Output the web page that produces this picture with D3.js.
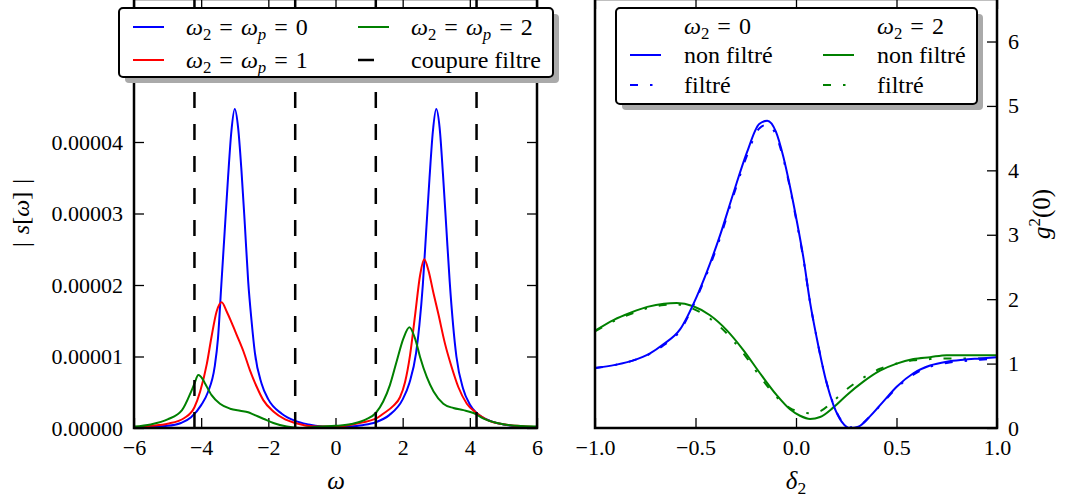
<!DOCTYPE html>
<html><head><meta charset="utf-8">
<script src="https://cdn.jsdelivr.net/npm/d3@7"></script>
<style>
body{margin:0;background:#fff;}
text{font-family:"Liberation Serif","Times New Roman",serif;fill:#000;}
</style>
</head><body>
<svg id="c" width="1074" height="502"></svg>
<script>
// ---------- DATA (left panel: |s[omega]| in units of 1e-5) ----------
const omegaTicks = [-6,-4,-2,0,2,4,6];
const specTicks = [0,1e-5,2e-5,3e-5,4e-5];
const cutoffs = [-4.2,-1.2,1.2,4.2];
const SPEC_UNIT = 1e-5;

const blueOmega = [-6,-5.5,-5,-4.6,-4.3,-4.0,-3.8,-3.6,-3.5,-3.4,-3.3,-3.2,-3.1,-3.0,-2.9,-2.8,-2.7,-2.6,-2.5,-2.4,-2.2,-2.0,-1.6,-1.2,-0.8,-0.4,0,0.4,0.8,1.2,1.6,2.0,2.2,2.4,2.5,2.6,2.7,2.8,2.9,3.0,3.1,3.2,3.3,3.4,3.5,3.6,3.8,4.0,4.2,4.6,5.0,5.5,6];
const blueSpec  = [0.01,0.02,0.03,0.07,0.15,0.32,0.5,0.85,1.25,2.0,2.75,3.5,4.15,4.46,4.2,3.6,2.85,2.05,1.5,1.05,0.62,0.4,0.2,0.1,0.05,0.02,0.01,0.02,0.04,0.08,0.18,0.4,0.63,1.05,1.45,2.0,2.75,3.5,4.15,4.46,4.2,3.55,2.8,2.05,1.45,1.0,0.55,0.33,0.21,0.1,0.05,0.02,0.01];

const redOmega = [-6,-5.5,-5,-4.5,-4.2,-4.03,-3.83,-3.69,-3.54,-3.39,-3.24,-3.09,-2.94,-2.74,-2.55,-2.35,-2.15,-1.85,-1.5,-1.2,-0.56,0,0.5,1.0,1.2,1.42,1.72,1.92,2.07,2.22,2.37,2.52,2.64,2.77,2.92,3.06,3.26,3.46,3.66,3.91,4.2,4.7,5.4,6];
const redSpec  = [0.01,0.03,0.06,0.14,0.29,0.51,0.9,1.28,1.63,1.76,1.63,1.47,1.3,1.07,0.81,0.58,0.39,0.23,0.12,0.07,0.02,0.02,0.05,0.1,0.13,0.2,0.31,0.43,0.64,1.02,1.58,2.14,2.36,2.2,1.88,1.6,1.18,0.85,0.57,0.34,0.21,0.08,0.03,0.01];

const greenOmega = [-6,-5.5,-5,-4.57,-4.28,-4.2,-4.085,-3.95,-3.88,-3.69,-3.44,-3.14,-2.84,-2.6,-2.45,-2.15,-1.85,-1.45,-1.06,-0.47,0,0.52,0.91,1.2,1.42,1.62,1.82,2.02,2.2,2.37,2.52,2.72,2.92,3.21,3.51,3.81,4.11,4.41,4.81,5.4,6];
const greenSpec  = [0.02,0.05,0.12,0.25,0.53,0.62,0.74,0.68,0.62,0.46,0.34,0.27,0.24,0.22,0.19,0.13,0.07,0.02,0.0,0.02,0.03,0.06,0.12,0.21,0.37,0.6,0.93,1.25,1.41,1.25,0.99,0.71,0.51,0.34,0.28,0.25,0.21,0.13,0.07,0.03,0.02];

// ---------- DATA (right panel: g2(0) vs delta2) ----------
const deltaTicks = [-1.0,-0.5,0.0,0.5,1.0];
const g2Ticks = [0,1,2,3,4,5,6];

const blueDelta = [-1,-0.9,-0.809,-0.726,-0.66,-0.577,-0.494,-0.444,-0.378,-0.312,-0.245,-0.183,-0.143,-0.1,-0.063,-0.03,0.003,0.036,0.07,0.103,0.153,0.186,0.227,0.269,0.31,0.368,0.434,0.501,0.584,0.667,0.75,0.832,0.915,1.0];
const blueG2    = [0.93,0.98,1.05,1.16,1.3,1.53,2.04,2.42,2.99,3.64,4.27,4.72,4.77,4.6,4.21,3.75,3.23,2.66,1.95,1.4,0.69,0.36,0.1,0.0,0.02,0.18,0.41,0.64,0.85,0.97,1.03,1.06,1.08,1.1];
const blueG2Filt= [0.93,0.98,1.05,1.15,1.28,1.51,2.02,2.39,2.95,3.6,4.22,4.65,4.71,4.55,4.18,3.73,3.2,2.64,1.95,1.4,0.7,0.37,0.11,0.01,0.03,0.18,0.4,0.62,0.83,0.95,1.01,1.04,1.06,1.08];

const greenDelta = [-1,-0.906,-0.823,-0.74,-0.657,-0.594,-0.511,-0.428,-0.345,-0.262,-0.179,-0.096,-0.03,0.02,0.07,0.12,0.186,0.252,0.335,0.418,0.501,0.584,0.667,0.75,1.0];
const greenG2    = [1.51,1.68,1.79,1.88,1.93,1.94,1.89,1.75,1.52,1.21,0.85,0.51,0.29,0.19,0.14,0.17,0.32,0.51,0.72,0.89,1.0,1.07,1.1,1.13,1.13];
const greenG2Filt= [1.5,1.66,1.77,1.86,1.91,1.92,1.85,1.7,1.47,1.16,0.8,0.48,0.31,0.25,0.23,0.26,0.42,0.6,0.78,0.92,1.0,1.05,1.07,1.08,1.08];

// ---------- DRAWING ----------
const svg = d3.select("#c");
const BLUE="#0000ff", RED="#ff0000", GREEN="#008000";
const FS = 22;   // tick labels
const LFS = 24;  // legend text

const xL = d3.scaleLinear().domain([-6,6]).range([134,537]);
const yL = d3.scaleLinear().domain([0,6e-5]).range([428,-1]);
const xR = d3.scaleLinear().domain([-1,1]).range([595,997]);
const yR = d3.scaleLinear().domain([0,6.66]).range([428,-1]);

const defs = svg.append("defs");
defs.append("clipPath").attr("id","clipL").append("rect")
  .attr("x",xL(-6)).attr("y",yL(6e-5)).attr("width",xL(6)-xL(-6)).attr("height",yL(0)-yL(6e-5));
defs.append("clipPath").attr("id","clipR").append("rect")
  .attr("x",xR(-1)).attr("y",yR(6.66)).attr("width",xR(1)-xR(-1)).attr("height",yR(0)-yR(6.66));

function styleAxis(g){
  g.select(".domain").remove();
  g.selectAll(".tick line").attr("stroke","#000").attr("stroke-width",1.3);
  g.selectAll(".tick text").attr("font-size",FS).attr("fill","#000");
}
const fmtMinus = s => s.replace("-","\u2212");

// ---- left axes ----
const gL = svg.append("g");
gL.append("g").attr("transform",`translate(0,${yL(0)})`)
  .call(d3.axisBottom(xL).tickValues(omegaTicks).tickSizeInner(-10).tickSizeOuter(0).tickPadding(11)
    .tickFormat(d=>fmtMinus(d3.format("d")(d)))).call(styleAxis);
gL.append("g").attr("transform",`translate(0,${yL(6e-5)})`)
  .call(d3.axisTop(xL).tickValues(omegaTicks).tickSizeInner(-10).tickSizeOuter(0).tickFormat(""))
  .call(styleAxis);
gL.append("g").attr("transform",`translate(${xL(-6)},0)`)
  .call(d3.axisLeft(yL).tickValues(specTicks).tickSizeInner(-10).tickSizeOuter(0).tickPadding(11)
    .tickFormat(d=>d.toFixed(5))).call(styleAxis);
gL.append("g").attr("transform",`translate(${xL(6)},0)`)
  .call(d3.axisRight(yL).tickValues(specTicks).tickSizeInner(-10).tickSizeOuter(0).tickFormat(""))
  .call(styleAxis);

const lineL = d3.line().x(d=>xL(d[0])).y(d=>yL(d[1]*SPEC_UNIT)).curve(d3.curveMonotoneX);
const curvesL = gL.append("g").attr("clip-path","url(#clipL)");
[[blueOmega,blueSpec,BLUE],[redOmega,redSpec,RED],[greenOmega,greenSpec,GREEN]].forEach(([xs,ys,c])=>{
  curvesL.append("path").datum(xs.map((x,i)=>[x,ys[i]]))
    .attr("d",lineL).attr("fill","none").attr("stroke",c).attr("stroke-width",2);
});
cutoffs.forEach(c=>{
  curvesL.append("line").attr("x1",xL(c)).attr("x2",xL(c)).attr("y1",yL(0)).attr("y2",yL(6e-5))
    .attr("stroke","#000").attr("stroke-width",2.5).attr("stroke-dasharray","16,16");
});
gL.append("rect").attr("x",xL(-6)).attr("y",yL(6e-5)).attr("width",xL(6)-xL(-6)).attr("height",yL(0)-yL(6e-5))
  .attr("fill","none").attr("stroke","#000").attr("stroke-width",2.5);

// ---- right axes ----
const gR = svg.append("g");
gR.append("g").attr("transform",`translate(0,${yR(0)})`)
  .call(d3.axisBottom(xR).tickValues(deltaTicks).tickSizeInner(-10).tickSizeOuter(0).tickPadding(11)
    .tickFormat(d=>fmtMinus(d3.format(".1f")(d)))).call(styleAxis);
gR.append("g").attr("transform",`translate(0,${yR(6.66)})`)
  .call(d3.axisTop(xR).tickValues(deltaTicks).tickSizeInner(-10).tickSizeOuter(0).tickFormat(""))
  .call(styleAxis);
gR.append("g").attr("transform",`translate(${xR(1)},0)`)
  .call(d3.axisRight(yR).tickValues(g2Ticks).tickSizeInner(-10).tickSizeOuter(0).tickPadding(11)
    .tickFormat(d3.format("d"))).call(styleAxis);

const lineR = d3.line().x(d=>xR(d[0])).y(d=>yR(d[1])).curve(d3.curveMonotoneX);
const curvesR = gR.append("g").attr("clip-path","url(#clipR)");
const DASHDOT = "8,12,2.5,12";
[[greenDelta,greenG2Filt,GREEN,DASHDOT],[blueDelta,blueG2Filt,BLUE,DASHDOT],
 [greenDelta,greenG2,GREEN,null],[blueDelta,blueG2,BLUE,null]].forEach(([xs,ys,c,dash])=>{
  const p = curvesR.append("path").datum(xs.map((x,i)=>[x,ys[i]]))
    .attr("d",lineR).attr("fill","none").attr("stroke",c).attr("stroke-width",2);
  if(dash) p.attr("stroke-dasharray",dash);
});
gR.append("rect").attr("x",xR(-1)).attr("y",yR(6.66)).attr("width",xR(1)-xR(-1)).attr("height",yR(0)-yR(6.66))
  .attr("fill","none").attr("stroke","#000").attr("stroke-width",2.5);

// ---- math text helper ----
function mathText(parent, x, y, parts, opts={}){
  const fs = opts.fs||LFS;
  const t = parent.append("text").attr("x",x).attr("y",y).attr("font-size",fs);
  if(opts.anchor) t.attr("text-anchor",opts.anchor);
  let shift = 0;
  parts.forEach(p=>{
    const ts = t.append("tspan").text(p.t);
    if(p.i) ts.attr("font-style","italic");
    let target = p.sub ? 5 : (p.sup ? -9 : 0);
    if(p.sub||p.sup) ts.attr("font-size",fs*0.7);
    if(target!==shift){ ts.attr("dy",target-shift); shift=target; }
  });
  return t;
}
const W2 = [{t:"ω",i:true},{t:"2",sub:true}];
const EQ = {t:"\u2004=\u2004"};

// ---- left legend ----
const legL = svg.append("g");
legL.append("rect").attr("x",125).attr("y",14).attr("width",434).attr("height",69).attr("rx",4).attr("fill","#aaaaaa");
legL.append("rect").attr("x",119).attr("y",8).attr("width",434).attr("height",69).attr("rx",4)
  .attr("fill","#fff").attr("stroke","#000").attr("stroke-width",2);
const hand = (g,x,y,c,dash)=>{const l=g.append("line").attr("x1",x).attr("x2",x+31).attr("y1",y).attr("y2",y)
  .attr("stroke",c).attr("stroke-width",2); if(dash) l.attr("stroke-dasharray",dash); return l;};
const wp = v => [...W2,EQ,{t:"ω",i:true},{t:"p",i:true,sub:true},EQ,{t:String(v)}];
hand(legL,133,27,BLUE);
mathText(legL,186,35,wp(0));
hand(legL,133,60,RED);
mathText(legL,186,68,wp(1));
hand(legL,358,27,GREEN);
mathText(legL,411,35,wp(2));
hand(legL,358,60,"#000","16,16").attr("stroke-width",2.5);
legL.append("text").attr("x",411).attr("y",68).attr("font-size",LFS).text("coupure filtre");

// ---- right legend ----
const legR = svg.append("g");
legR.append("rect").attr("x",622).attr("y",14).attr("width",361).attr("height",96).attr("rx",4).attr("fill","#aaaaaa");
legR.append("rect").attr("x",616).attr("y",8).attr("width",361).attr("height",96).attr("rx",4)
  .attr("fill","#fff").attr("stroke","#000").attr("stroke-width",2);
mathText(legR,684,34,[...W2,EQ,{t:"0"}]);
mathText(legR,877,34,[...W2,EQ,{t:"2"}]);
hand(legR,630,55,BLUE);
legR.append("text").attr("x",684).attr("y",63).attr("font-size",LFS).text("non filtré");
hand(legR,823,55,GREEN);
legR.append("text").attr("x",877).attr("y",63).attr("font-size",LFS).text("non filtré");
hand(legR,630,85,BLUE,DASHDOT);
legR.append("text").attr("x",684).attr("y",93).attr("font-size",LFS).text("filtré");
hand(legR,823,85,GREEN,DASHDOT);
legR.append("text").attr("x",877).attr("y",93).attr("font-size",LFS).text("filtré");

// ---- axis labels ----
svg.append("text").attr("x",336).attr("y",489).attr("text-anchor","middle").attr("font-size",25)
  .attr("font-style","italic").text("ω");
mathText(svg,796,489,[{t:"δ",i:true},{t:"2",sub:true}],{fs:25,anchor:"middle"});
const yl = svg.append("text").attr("transform","translate(29,213) rotate(-90)").attr("text-anchor","middle").attr("font-size",24);
yl.append("tspan").text("|\u2004");
yl.append("tspan").attr("font-style","italic").text("s");
yl.append("tspan").text("[");
yl.append("tspan").attr("font-style","italic").text("ω");
yl.append("tspan").text("]\u2004|");
const gl = svg.append("text").attr("transform","translate(1050,214) rotate(-90)").attr("text-anchor","middle").attr("font-size",25);
gl.append("tspan").attr("font-style","italic").text("g");
gl.append("tspan").attr("font-size",17).attr("dy",-10).text("2");
gl.append("tspan").attr("dy",10).text("(0)");
</script>
</body></html>
